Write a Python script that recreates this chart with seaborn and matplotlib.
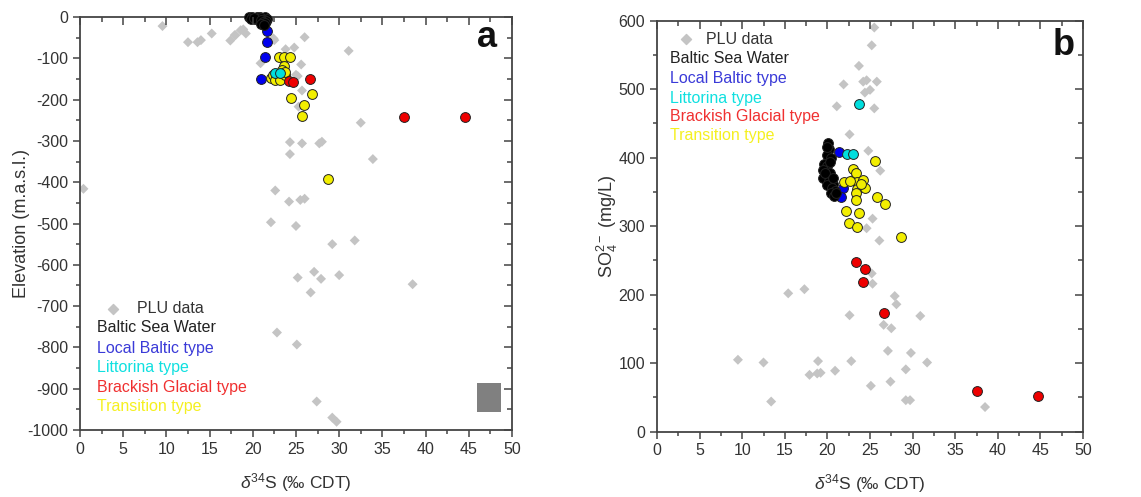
import matplotlib
matplotlib.use("Agg")
import matplotlib.pyplot as plt
from matplotlib.patches import Rectangle
from matplotlib.ticker import MultipleLocator
import seaborn as sns
import pandas as pd

# ---------------- data: panel a (d34S vs elevation) ----------------
a_plu_x = [9.55, 12.5, 13.6, 14.0, 15.25, 17.4, 18.0, 18.9, 19.2, 20.9, 22.5, 23.8, 24.8, 26.0,
           25.6, 25.2, 25.7, 25.3, 31.1, 32.5, 33.9, 24.3, 25.7, 24.3, 27.7, 28.0, 22.6, 24.2,
           25.5, 26.0, 22.1, 25.0, 29.2, 31.8, 0.4, 25.2, 27.1, 27.9, 26.7, 30.0, 38.5, 22.8,
           25.1, 27.4, 29.2, 29.7, 17.9, 18.6, 22.4, 25.0]
a_plu_y = [-22, -61, -61, -56, -40, -57, -44, -30, -40, -112, -56, -78, -74, -49,
           -115, -143, -178, -217, -82, -256, -344, -303, -306, -332, -306, -302, -420, -447,
           -443, -440, -497, -506, -550, -541, -416, -631, -617, -634, -667, -625, -647, -764,
           -793, -931, -970, -980, -44, -32, -52, -140]
a_baltic_x = [19.6, 19.9, 20.2, 20.5, 20.8, 21.1, 21.4, 21.6, 19.8, 20.3, 20.7, 21.0, 21.3, 21.5,
              20.1, 20.9, 21.2, 21.4, 21.0, 21.3]
a_baltic_y = [-1, 0, -2, 0, -1, -3, -1, -4, -5, -4, -6, -2, -7, -9, -3, -8, -12, -14, -16, -20]
a_local_x = [21.6, 21.7, 21.4, 20.9]
a_local_y = [-34, -60, -96, -150]
a_litt_x = [22.6, 23.2]
a_litt_y = [-136, -136]
a_brack_x = [24.2, 24.6, 26.6, 37.5, 44.6]
a_brack_y = [-155, -157, -150, -243, -243]
a_trans_x = [23.0, 23.6, 24.3, 23.6, 23.4, 22.1, 22.3, 22.6, 23.2, 23.7, 23.7, 24.4, 26.8, 25.9, 25.7, 28.7]
a_trans_y = [-97, -97, -97, -119, -128, -147, -140, -153, -153, -140, -132, -195, -186, -213, -240, -392]
a_box = [46.0, -956, 2.7, 71]   # grey block seen in the original panel a

# ---------------- data: panel b (d34S vs SO4) ----------------
b_plu_x = [25.5, 25.2, 23.7, 21.9, 24.2, 24.6, 25.8, 25.0, 24.4, 25.5, 21.1, 22.6, 24.8, 26.2,
           25.3, 24.6, 26.1, 25.2, 25.3, 15.4, 17.3, 22.6, 27.9, 28.1, 26.6, 27.5, 30.9, 27.1,
           29.8, 31.7, 9.5, 12.5, 18.9, 17.9, 18.8, 19.2, 20.9, 22.8, 29.2, 13.4, 25.1, 27.4,
           29.2, 29.7, 38.5]
b_plu_y = [590, 564, 534, 507, 511, 513, 511, 499, 495, 472, 475, 434, 410, 381,
           311, 297, 279, 231, 216, 202, 208, 170, 198, 186, 156, 151, 169, 118,
           115, 101, 105, 101, 103, 83, 85, 86, 89, 103, 91, 44, 67, 73,
           46, 46, 36]
b_baltic_x = [20.1, 20.2, 19.9, 20.4, 19.6, 20.0, 19.5, 20.3, 19.8, 19.5, 20.2, 20.7, 19.9, 20.5,
              20.9, 20.4, 20.8, 21.0, 19.7, 20.6, 20.3, 20.0]
b_baltic_y = [421, 412, 404, 400, 391, 388, 382, 378, 372, 370, 366, 362, 360, 356,
              352, 348, 344, 348, 378, 371, 394, 415]
b_local_x = [21.4, 21.8, 21.6]
b_local_y = [408, 356, 343]
b_litt_x = [23.7, 22.3, 23.0]
b_litt_y = [479, 405, 405]
b_brack_x = [23.4, 24.4, 24.2, 26.6, 37.5, 44.7]
b_brack_y = [247, 238, 218, 173, 60, 52]
b_trans_x = [25.6, 23.0, 22.0, 23.0, 23.4, 23.5, 24.2, 23.5, 24.4, 23.4, 23.4, 25.8, 26.8, 22.2,
             23.7, 22.5, 23.5, 28.6, 22.6, 24.0]
b_trans_y = [395, 383, 365, 367, 377, 365, 367, 355, 356, 348, 338, 343, 332, 322,
             319, 305, 299, 284, 366, 362]

legend_labels = ["PLU data", "Baltic Sea Water", "Local Baltic type", "Littorina type",
                 "Brackish Glacial type", "Transition type"]

# ---------------- style ----------------
sns.set_style("ticks")
plt.rcParams["font.family"] = ["Liberation Sans", "DejaVu Sans"]
plt.rcParams["axes.unicode_minus"] = False
plt.rcParams["mathtext.fontset"] = "custom"
plt.rcParams["mathtext.rm"] = "Liberation Sans"
plt.rcParams["mathtext.it"] = "Liberation Sans:italic"

GREY = "#c4c4c4"
C_BALTIC = "#000000"
C_LOCAL = "#0000ee"
C_LITT = "#00dede"
C_BRACK = "#ee0000"
C_TRANS = "#f2ee00"
TXT_COLORS = ["#333333", "#222222", "#3a3ad8", "#10e0e0", "#f03030", "#f5f020"]
SPINE = "#444444"

fig = plt.figure(figsize=(11.41, 4.97), dpi=100)
ax_a = fig.add_axes([0.0701, 0.1348, 0.3786, 0.831])
ax_b = fig.add_axes([0.5758, 0.1314, 0.3734, 0.827])

CIRC = dict(marker="o", s=50, edgecolor="#222222", linewidth=0.7, clip_on=False)


def draw(ax, plu, groups):
    df = pd.DataFrame({"x": plu[0], "y": plu[1]})
    sns.scatterplot(data=df, x="x", y="y", ax=ax, marker="D", s=26, color=GREY,
                    edgecolor="none", linewidth=0, zorder=2, legend=False)
    for (gx, gy, col, z) in groups:
        d = pd.DataFrame({"x": gx, "y": gy})
        sns.scatterplot(data=d, x="x", y="y", ax=ax, color=col, zorder=z, legend=False, **CIRC)


draw(ax_a, (a_plu_x, a_plu_y), [
    (a_local_x, a_local_y, C_LOCAL, 3),
    (a_baltic_x, a_baltic_y, C_BALTIC, 4),
    (a_trans_x, a_trans_y, C_TRANS, 5),
    (a_litt_x, a_litt_y, C_LITT, 6),
    (a_brack_x, a_brack_y, C_BRACK, 7),
])
draw(ax_b, (b_plu_x, b_plu_y), [
    (b_local_x, b_local_y, C_LOCAL, 3),
    (b_baltic_x, b_baltic_y, C_BALTIC, 4),
    (b_trans_x, b_trans_y, C_TRANS, 5),
    (b_litt_x, b_litt_y, C_LITT, 6),
    (b_brack_x, b_brack_y, C_BRACK, 7),
])

ax_a.add_patch(Rectangle((a_box[0], a_box[1]), a_box[2], a_box[3], facecolor="#808080",
                         edgecolor="none", zorder=3))

ax_a.set_ylim(-1000, 0)
ax_b.set_ylim(0, 600)

for ax in (ax_a, ax_b):
    ax.set_xlim(0, 50)
    ax.xaxis.set_major_locator(MultipleLocator(5))
    ax.xaxis.set_minor_locator(MultipleLocator(2.5))
    ax.yaxis.set_minor_locator(MultipleLocator(50))
    ax.yaxis.set_major_locator(MultipleLocator(100))
    for sp in ax.spines.values():
        sp.set_visible(True)
        sp.set_color(SPINE)
        sp.set_linewidth(1.3)
    ax.tick_params(which="both", direction="out", color=SPINE, labelcolor="#333333",
                   labelsize=11.5, width=1.1, top=False, right=False)
    ax.tick_params(which="major", length=5)
    ax.tick_params(which="minor", length=3)
    ax.set_xlabel(r"$\delta^{34}$S (‰ CDT)", fontsize=12.5, color="#333333", labelpad=10)

    # inward ticks on top edge (twin sharing y) and right edge (twin sharing x)
    tx = ax.twiny()
    tx.set_xlim(ax.get_xlim())
    tx.xaxis.set_major_locator(MultipleLocator(5))
    tx.xaxis.set_minor_locator(MultipleLocator(2.5))
    tx.tick_params(axis="x", which="both", direction="in", color=SPINE, top=True,
                   bottom=False, labeltop=False, labelbottom=False, width=1.1)
    tx.tick_params(axis="x", which="major", length=6)
    tx.tick_params(axis="x", which="minor", length=3.5)
    tx.tick_params(axis="y", left=False, right=False, labelleft=False, labelright=False)
    for sp in tx.spines.values():
        sp.set_visible(False)
    tx.grid(False)

    ty = ax.twinx()
    ty.set_ylim(ax.get_ylim())
    ty.yaxis.set_major_locator(MultipleLocator(100))
    ty.yaxis.set_minor_locator(MultipleLocator(50))
    ty.tick_params(axis="y", which="both", direction="in", color=SPINE, right=True,
                   left=False, labelright=False, labelleft=False, width=1.1)
    ty.tick_params(axis="y", which="major", length=6)
    ty.tick_params(axis="y", which="minor", length=3.5)
    ty.tick_params(axis="x", top=False, bottom=False, labeltop=False, labelbottom=False)
    for sp in ty.spines.values():
        sp.set_visible(False)
    ty.grid(False)

ax_a.set_ylabel("Elevation (m.a.s.l.)", fontsize=13, color="#333333", labelpad=-2)
ax_b.set_ylabel(r"SO$_4^{2-}$ (mg/L)", fontsize=13, color="#333333", labelpad=-1)

ax_a.text(0.965, 0.927, "a", transform=ax_a.transAxes, ha="right", va="baseline",
          fontsize=26, fontweight="bold", color="#111111")
ax_b.text(0.981, 0.917, "b", transform=ax_b.transAxes, ha="right", va="baseline",
          fontsize=26, fontweight="bold", color="#111111")


def pseudo_legend(ax, x_text, x_mark, x_plu, ys):
    ax.scatter([x_mark], [ys[0]], marker="D", s=26, color=GREY, transform=ax.transAxes,
               clip_on=False, zorder=8)
    ax.text(x_plu, ys[0], legend_labels[0], transform=ax.transAxes, va="center", ha="left",
            fontsize=11.5, color=TXT_COLORS[0])
    for lab, yy, col in zip(legend_labels[1:], ys[1:], TXT_COLORS[1:]):
        ax.text(x_text, yy, lab, transform=ax.transAxes, va="center", ha="left",
                fontsize=11.5, color=col)


pseudo_legend(ax_a, 0.0387, 0.0757, 0.131, [0.293, 0.247, 0.1985, 0.151, 0.104, 0.056])
pseudo_legend(ax_b, 0.0305, 0.068, 0.115, [0.955, 0.907, 0.860, 0.811, 0.766, 0.720])

fig.savefig("out.png", dpi=100)
